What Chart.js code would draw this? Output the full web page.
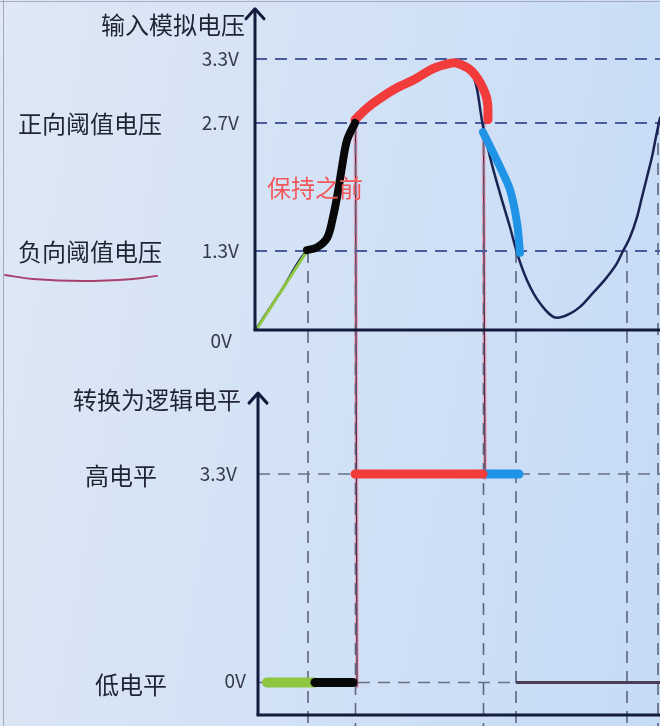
<!DOCTYPE html>
<html>
<head>
<meta charset="utf-8">
<script src="https://cdn.jsdelivr.net/npm/chart.js@4.4.1/dist/chart.umd.min.js"></script>
<style>
  html, body { margin: 0; padding: 0; }
  body { width: 660px; height: 726px; overflow: hidden;
    background: linear-gradient(100deg, #dfe8f4 0%, #d3e2f6 45%, #c6dbf6 100%); }
  #wrap { position: relative; width: 660px; height: 726px; }
  #edgeL { position: absolute; left: 3px; top: 0; width: 1px; height: 726px; background: #a3aabb; }
  #edgeT { position: absolute; left: 0; top: 1px; width: 660px; height: 1px; background: #a9abc6; }
</style>
</head>
<body>
<div id="wrap">
  <canvas id="c"></canvas>
  <div id="edgeL"></div><div id="edgeT"></div>
</div>
<script>
// ---------------- DATA ----------------
// time axis (arbitrary units), voltages in volts
const tEnd = 40.5;

// input analog voltage (thin original curve)
const inputT = [0.2, 2.6, 5.2, 6.2, 7.2, 7.8, 8.3, 8.7, 9.2, 10.0, 11.2, 12.5, 14.2, 15.8, 17.8, 19.5, 20.2, 21.5, 22.2, 22.7, 23.5, 24.5, 25.5, 26.2, 27.2, 28.5, 30.2, 31.5, 32.5, 33.8, 35.2, 36.2, 36.8, 37.5, 38.2, 38.7, 39.2, 39.7, 40.1, 40.5];
const inputV = [0.04, 0.64, 1.30, 1.34, 1.44, 1.67, 1.95, 2.22, 2.51, 2.70, 2.84, 2.93, 3.03, 3.10, 3.21, 3.26, 3.26, 3.20, 3.02, 2.72, 2.33, 1.93, 1.56, 1.27, 0.82, 0.44, 0.20, 0.27, 0.38, 0.61, 0.87, 1.10, 1.30, 1.45, 1.67, 1.89, 2.11, 2.33, 2.55, 2.75];

// coloured overlay strokes on the input curve
const greenT = [0.3, 5.2];            const greenV = [0.05, 1.30];
const blackT = [5.2, 6.2, 7.2, 7.8, 8.3, 8.7, 9.2, 10.0];
const blackV = [1.31, 1.34, 1.44, 1.67, 1.95, 2.22, 2.51, 2.70];
const redT = [10.0, 11.2, 12.5, 14.2, 15.8, 17.8, 19.5, 20.2, 21.5, 22.5, 23.2, 23.3];
const redV = [2.73, 2.84, 2.93, 3.03, 3.10, 3.21, 3.26, 3.26, 3.20, 3.08, 2.92, 2.73];
const blueT = [22.8, 24.5, 25.5, 26.2, 26.5];
const blueV = [2.60, 2.22, 1.97, 1.61, 1.27];

// threshold levels and crossing instants
const topTickValues = [3.3, 2.7, 1.3, 0];
const topTickLabels = ['3.3V', '2.7V', '1.3V', '0V'];
const topLevelNames = ['', '正向阈值电压', '负向阈值电压', ''];
const thresholdLevels = [3.3, 2.7, 1.3];
const crossT = [5.3, 10.05, 22.85, 26.1, 37.2, 40.3];
const crossV = [1.3, 2.7, 2.7, 1.3, 1.3, 2.7];

// logic output
const logicTickValues = [3.3, 0];
const logicTickLabels = ['3.3V', '0V'];
const logicLevelNames = ['高电平', '低电平'];
const HIGH = 3.3, LOW = 0;
const logicRedT = [10.0, 22.8];
const logicBlueT = [22.8, 26.4];
const logicGreenT = [1.2, 6.0];
const logicBlackT = [6.0, 9.8];
const logicTailT = [26.1, 40.5];

// underline beneath 负向阈值电压
const underlineT = [-25, -22.2, -17.2, -12.2, -9.8];
const underlineV = [0.905, 0.839, 0.806, 0.839, 0.889];

const titleTop = '输入模拟电压';
const titleBottom = '转换为逻辑电平';
const note = '保持之前';

// ---------------- SCALE (non-uniform voltage axis as drawn) ----------------
const Y_BREAK_VALUES = [-6.52, 0, 1.3, 2.7, 3.3, 3.853];
const Y_BREAK_FRACTIONS = [0, 0.54545, 0.65427, 0.83058, 0.91873, 1];
class PiecewiseScale extends Chart.LinearScale {
  getPixelForValue(value) {
    if (value === null || value === undefined || isNaN(value)) return NaN;
    const bv = Y_BREAK_VALUES, bf = Y_BREAK_FRACTIONS;
    let i = 0;
    while (i < bv.length - 2 && value > bv[i + 1]) i++;
    const f = bf[i] + (value - bv[i]) * (bf[i + 1] - bf[i]) / (bv[i + 1] - bv[i]);
    return this.getPixelForDecimal(f);
  }
  getValueForPixel(pixel) {
    const f = this.getDecimalForPixel(pixel);
    const bv = Y_BREAK_VALUES, bf = Y_BREAK_FRACTIONS;
    let i = 0;
    while (i < bf.length - 2 && f > bf[i + 1]) i++;
    return bv[i] + (f - bf[i]) * (bv[i + 1] - bv[i]) / (bf[i + 1] - bf[i]);
  }
}
PiecewiseScale.id = 'piecewise';
PiecewiseScale.defaults = {};
Chart.register(PiecewiseScale);

const pts = (ts, vs) => ts.map((t, i) => ({ x: t, y: Array.isArray(vs) ? vs[i] : vs }));

const COL = {
  axis: '#131b3d', curve: '#1b2352', dashTop: '#4b5c9e', dashV: '#5c6582', dashBot: '#687084',
  red: '#f23c3c', blue: '#1f93e6', green: '#8ec641', black: '#080808', tail: '#4d3d55',
  text: '#1f2433', num: '#363c4a', note: '#f25a5a', under: '#a8406e'
};

function line(data, color, width, yAxisID, extra) {
  return Object.assign({ data, borderColor: color, borderWidth: width, yAxisID, pointRadius: 0,
    fill: false, tension: 0, borderCapStyle: 'butt', borderJoinStyle: 'round' }, extra || {});
}
const thick = { borderCapStyle: 'round', borderJoinStyle: 'round' };

const datasets = [];
// overlays on top (first listed are drawn on top)
datasets.push(line(pts(blackT, blackV), COL.black, 8, 'y', Object.assign({ tension: 0.35 }, thick)));
datasets.push(line(pts(redT, redV), COL.red, 9, 'y', Object.assign({ tension: 0.4 }, thick)));
datasets.push(line(pts(blueT, blueV), COL.blue, 8, 'y', Object.assign({ tension: 0.3 }, thick)));
datasets.push(line(pts(greenT, greenV), COL.green, 3, 'y', thick));
datasets.push(line(pts(logicBlackT, LOW), COL.black, 9, 'y2', thick));
datasets.push(line(pts(logicGreenT, LOW), COL.green, 10, 'y2', thick));
datasets.push(line(pts(logicRedT, HIGH), COL.red, 9, 'y2', thick));
datasets.push(line(pts(logicBlueT, HIGH), COL.blue, 9, 'y2', thick));
datasets.push(line(pts(inputT, inputV), COL.curve, 2.5, 'y', { cubicInterpolationMode: 'monotone', borderCapStyle: 'round' }));
datasets.push(line(pts(logicTailT, LOW), COL.tail, 3, 'y2'));
datasets.push(line(pts(underlineT, underlineV), COL.under, 1.8, 'y', { tension: 0.4, borderCapStyle: 'round' }));
thresholdLevels.forEach(v => datasets.push(line(pts([0, tEnd], v), COL.dashTop, 2, 'y', { borderDash: [12, 8] })));
logicTickValues.forEach(v => datasets.push(line(pts([0.3, tEnd], v), COL.dashBot, 1.6, 'y2', { borderDash: [12, 8] })));
crossT.forEach((t, i) => datasets.push(line(pts([t, t], [crossV[i], Y_BREAK_VALUES[0]]), COL.dashV, 1.6, 'y', { borderDash: [12, 8] })));

// ---------------- DECORATION PLUGIN ----------------
const deco = {
  id: 'deco',
  beforeDatasetsDraw(chart) {
    const { ctx } = chart; const x = chart.scales.x, y = chart.scales.y, y2 = chart.scales.y2;
    // hand-drawn connectors from threshold crossings down to the logic trace
    const conns = [[crossT[1], 2.7, LOW], [crossT[2], 2.7, HIGH]];
    conns.forEach(([t, vTop, vBot]) => {
      const px = x.getPixelForValue(t);
      const y0 = y.getPixelForValue(vTop), y1 = y2.getPixelForValue(vBot);
      ctx.save(); ctx.lineCap = 'round';
      ctx.strokeStyle = 'rgba(246,160,182,0.8)'; ctx.lineWidth = 4;
      ctx.beginPath(); ctx.moveTo(px, y0); ctx.lineTo(px + 1.5, y1 + 4); ctx.stroke();
      ctx.strokeStyle = '#4a2a45'; ctx.lineWidth = 1.3;
      ctx.beginPath(); ctx.moveTo(px, y0); ctx.lineTo(px + 1.5, y1 + 4); ctx.stroke();
      ctx.restore();
    });
  },
  afterDatasetsDraw(chart) {
    const { ctx } = chart; const x = chart.scales.x, y = chart.scales.y, y2 = chart.scales.y2;
    const right = x.getPixelForValue(tEnd) + 2;
    function axisPair(ax, yBase, yTip) {
      ctx.save();
      ctx.strokeStyle = COL.axis; ctx.lineWidth = 3; ctx.lineCap = 'butt';
      ctx.beginPath(); ctx.moveTo(ax, yBase); ctx.lineTo(ax, yTip + 1); ctx.stroke();
      ctx.beginPath(); ctx.moveTo(ax - 1.5, yBase); ctx.lineTo(right, yBase); ctx.stroke();
      ctx.lineJoin = 'round'; ctx.lineCap = 'round'; ctx.lineWidth = 3;
      ctx.beginPath(); ctx.moveTo(ax - 9, yTip + 10); ctx.lineTo(ax, yTip); ctx.lineTo(ax + 9, yTip + 10); ctx.stroke();
      ctx.restore();
    }
    axisPair(x.getPixelForValue(0), y.getPixelForValue(0), y.getPixelForValue(3.77));
    axisPair(x.getPixelForValue(0.3), y2.getPixelForValue(-0.514), y2.getPixelForValue(4.58));
  },
  afterDraw(chart) {
    const { ctx } = chart; const x = chart.scales.x, y = chart.scales.y, y2 = chart.scales.y2;
    const ax = x.getPixelForValue(0);
    const cjk = '24px "Noto Sans CJK SC", "Noto Sans", sans-serif';
    const num = '19px "Noto Sans CJK SC", "Noto Sans", sans-serif';
    ctx.save();
    ctx.textBaseline = 'middle';
    // titles
    ctx.font = cjk; ctx.fillStyle = COL.text; ctx.textAlign = 'right';
    ctx.fillText(titleTop, ax - 10, y.getPixelForValue(3.3) - 34);
    ctx.fillText(titleBottom, ax - 14, y2.getPixelForValue(4.58) + 7);
    // top ticks
    topTickValues.forEach((v, i) => {
      const py = y.getPixelForValue(v);
      ctx.font = num; ctx.fillStyle = COL.num; ctx.textAlign = 'right';
      if (v === 0) ctx.fillText(topTickLabels[i], ax - 23, py + 11);
      else ctx.fillText(topTickLabels[i], ax - 16, py);
      if (topLevelNames[i]) {
        ctx.font = cjk; ctx.fillStyle = COL.text; ctx.textAlign = 'left';
        ctx.fillText(topLevelNames[i], ax - 237, py + 1);
      }
    });
    // bottom ticks
    logicTickValues.forEach((v, i) => {
      const py = y2.getPixelForValue(v);
      ctx.font = num; ctx.fillStyle = COL.num; ctx.textAlign = 'right';
      if (v === 0) ctx.fillText(logicTickLabels[i], ax - 9, py - 2);
      else ctx.fillText(logicTickLabels[i], ax - 18, py);
      ctx.font = cjk; ctx.fillStyle = COL.text; ctx.textAlign = 'left';
      ctx.fillText(logicLevelNames[i], ax - (v === 0 ? 160 : 170), py + 2);
    });
    // note
    ctx.font = cjk; ctx.fillStyle = COL.note; ctx.textAlign = 'left';
    ctx.fillText(note, x.getPixelForValue(1.2), y.getPixelForValue(2.0) + 1);
    ctx.restore();
  }
};

function build() {
  new Chart(document.getElementById('c'), {
    type: 'line',
    data: { datasets },
    options: {
      responsive: true, maintainAspectRatio: false, devicePixelRatio: 1,
      animation: false, events: [],
      layout: { padding: 0 },
      plugins: { legend: { display: false }, tooltip: { enabled: false }, title: { display: false } },
      scales: {
        x: { type: 'linear', display: false, min: -25.5, max: 40.5 },
        y: { type: 'piecewise', display: false, min: Y_BREAK_VALUES[0], max: Y_BREAK_VALUES[Y_BREAK_VALUES.length - 1] },
        y2: { type: 'linear', display: false, min: -0.6885, max: 10.802 }
      }
    },
    plugins: [deco]
  });
}
if (document.fonts && document.fonts.load) {
  Promise.all([
    document.fonts.load('24px "Noto Sans CJK SC"', '输入模拟电压'),
    document.fonts.load('19px "Noto Sans CJK SC"', '3.3V')
  ]).then(build, build);
} else build();
</script>
</body>
</html>
